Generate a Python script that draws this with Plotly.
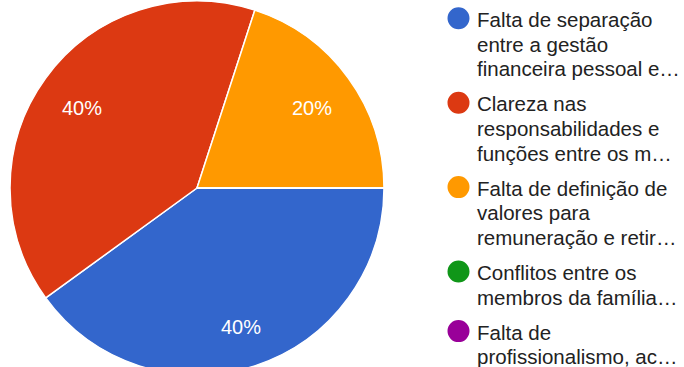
import math
import plotly.graph_objects as go

# Survey answers (number of respondents per option)
labels = [
    "Falta de separação entre a gestão financeira pessoal e…",
    "Clareza nas responsabilidades e funções entre os m…",
    "Falta de definição de valores para remuneração e retir…",
    "Conflitos entre os membros da família…",
    "Falta de profissionalismo, ac…",
]
# Wrapped lines used in the legend
legend_lines = [
    ["Falta de separação", "entre a gestão", "financeira pessoal e…"],
    ["Clareza nas", "responsabilidades e", "funções entre os m…"],
    ["Falta de definição de", "valores para", "remuneração e retir…"],
    ["Conflitos entre os", "membros da família…"],
    ["Falta de", "profissionalismo, ac…"],
]
values = [2, 2, 1, 0, 0]
colors = ["#3366CC", "#DC3912", "#FF9900", "#109618", "#990099"]

W, H = 684, 376
FONT = "Liberation Sans, Arial, sans-serif"

# Pie geometry in pixels
CX, CY, R = 197, 188, 187
START = 90  # first slice starts at 3 o'clock, clockwise

fig = go.Figure(
    go.Pie(
        labels=labels,
        values=values,
        sort=False,
        direction="clockwise",
        rotation=START,
        marker=dict(colors=colors, line=dict(color="white", width=1.5)),
        textinfo="none",
        domain=dict(x=[(CX - R) / W, (CX + R) / W], y=[0, 1]),
        showlegend=False,
        hoverinfo="label+percent",
    )
)

annotations, shapes = [], []

# Percentage labels placed along each slice's mid-angle
total = sum(values)
acc = 0
for v in values:
    if v > 0:
        mid = START + (acc + v / 2) / total * 360
        a = math.radians(mid)
        px = CX + 0.76 * R * math.sin(a)
        py = CY - 0.76 * R * math.cos(a) + 4
        annotations.append(dict(
            xref="paper", yref="paper", x=px / W, y=1 - py / H,
            xanchor="center", yanchor="middle", showarrow=False,
            text=f"{round(v / total * 100)}%",
            font=dict(family=FONT, size=20, color="white"),
        ))
    acc += v

# Hand-built legend with round swatches
LINE_H = 24.8
GAP = 10
y_px = 18.3
for lines, col in zip(legend_lines, colors):
    shapes.append(dict(
        type="circle", xref="paper", yref="paper",
        xsizemode="pixel", ysizemode="pixel",
        xanchor=458.5 / W, yanchor=1 - y_px / H,
        x0=-11, x1=11, y0=-11, y1=11,
        fillcolor=col, line=dict(width=0),
    ))
    for k, line in enumerate(lines):
        ly = y_px + k * LINE_H + 1
        annotations.append(dict(
            xref="paper", yref="paper", x=475 / W, y=1 - ly / H,
            xanchor="left", yanchor="middle", align="left",
            text=line, showarrow=False,
            font=dict(family=FONT, size=20.5, color="#222222"),
        ))
    y_px += len(lines) * LINE_H + GAP

fig.update_layout(
    width=W, height=H,
    margin=dict(l=0, r=0, t=0, b=0),
    paper_bgcolor="white", plot_bgcolor="white",
    shapes=shapes, annotations=annotations,
)

fig.write_html(
    "out.html",
    post_script="document.documentElement.style.overflow='hidden';document.body.style.overflow='hidden';document.body.style.margin='0';",
)
